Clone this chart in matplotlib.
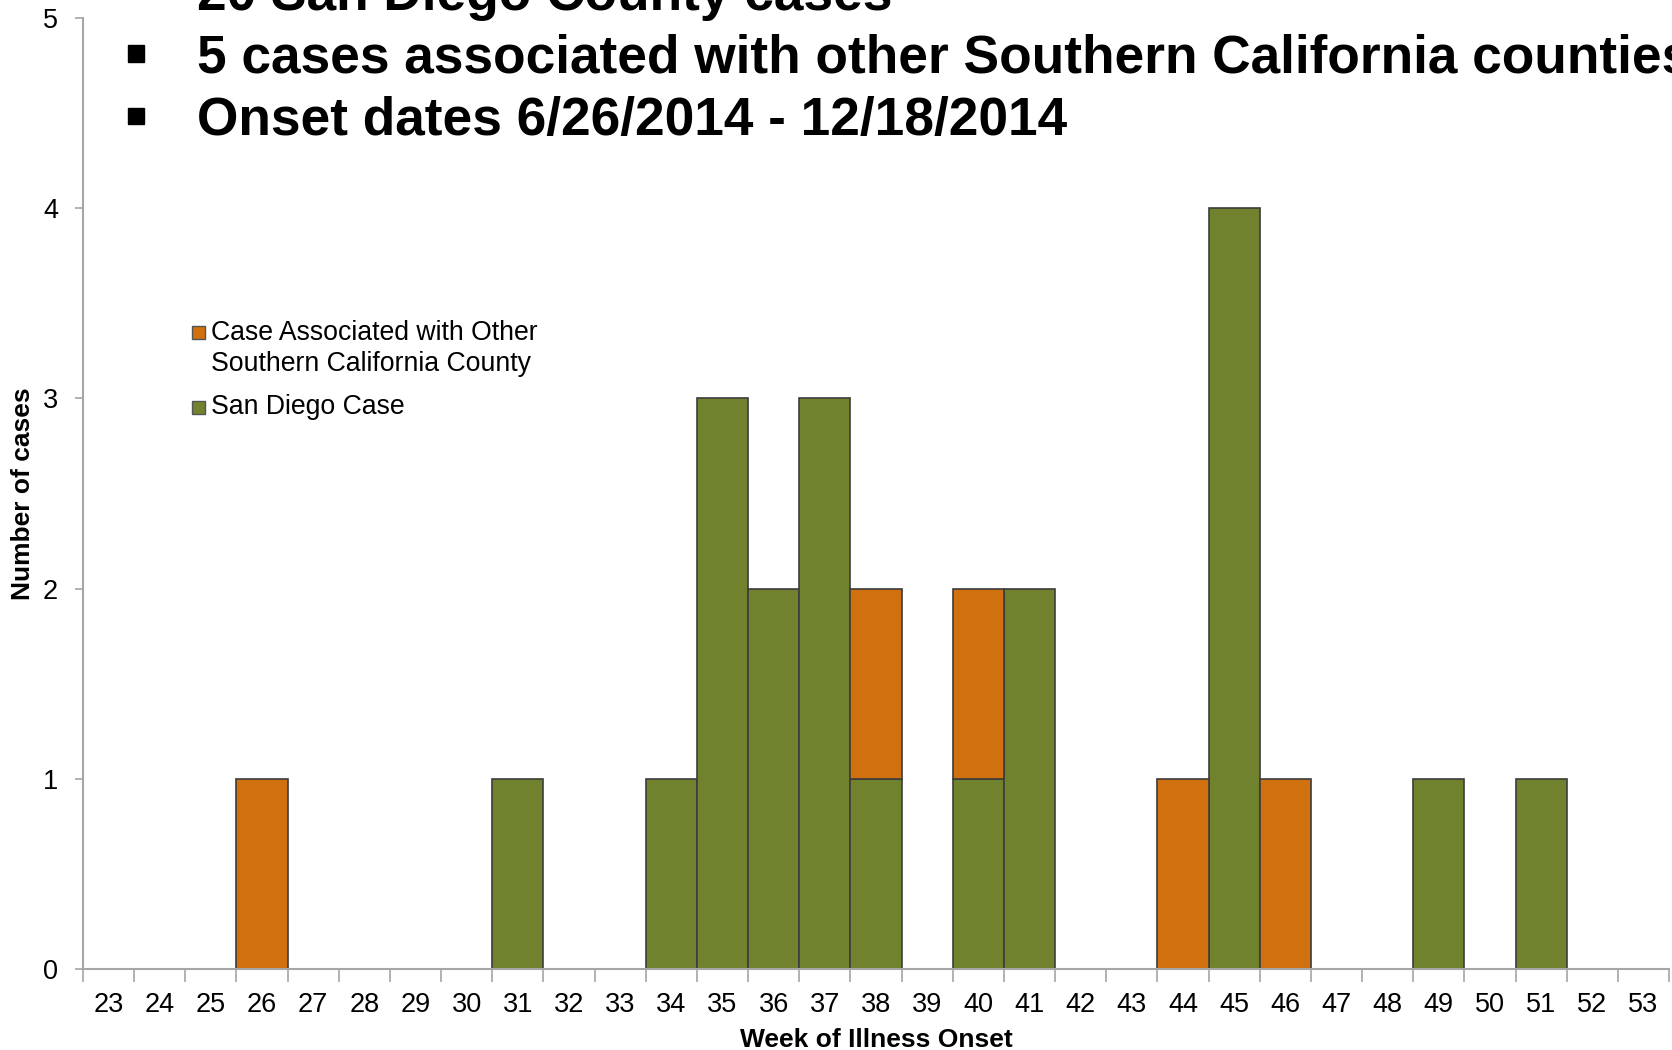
import numpy as np
import matplotlib.pyplot as plt
from matplotlib.patches import Rectangle

plt.rcParams['font.family'] = ['Liberation Sans', 'DejaVu Sans']

weeks = np.arange(23, 54)
san_diego = np.array([0, 0, 0, 0, 0, 0, 0, 0, 1, 0, 0, 1, 3, 2, 3, 1,
                      0, 1, 2, 0, 0, 0, 4, 0, 0, 0, 1, 0, 1, 0, 0])
other_county = np.array([0, 0, 0, 1, 0, 0, 0, 0, 0, 0, 0, 0, 0, 0, 0, 1,
                         0, 1, 0, 0, 0, 1, 0, 1, 0, 0, 0, 0, 0, 0, 0])

headline = ["20 San Diego County cases",
            "5 cases associated with other Southern California counties",
            "Onset dates 6/26/2014 - 12/18/2014"]
label_other = "Case Associated with Other\nSouthern California County"
label_sd = "San Diego Case"

green = "#71822f"
orange = "#d0700e"
edge = "#3c3c3c"
axis_grey = "#a6a6a6"

W, H = 1672, 1050
fig = plt.figure(figsize=(W / 100, H / 100), dpi=100)
ax = fig.add_axes([83 / W, 1 - 969 / H, (1669 - 83) / W, (969 - 18) / H])

# stacked bars, only where there are cases
m = san_diego > 0
ax.bar(weeks[m], san_diego[m], width=1.0, color=green, edgecolor=edge, linewidth=1.2)
m = other_county > 0
ax.bar(weeks[m], other_county[m], bottom=san_diego[m], width=1.0,
       color=orange, edgecolor=edge, linewidth=1.2)

ax.set_xlim(22.5, 53.5)
ax.set_ylim(0, 5)
ax.set_yticks(range(0, 6))
ax.set_xticks(weeks)
ax.set_xticklabels([str(w) for w in weeks])
ax.set_xticks(np.arange(22.5, 54.0, 1.0), minor=True)
ax.tick_params(axis='x', which='major', length=0, pad=16.5, labelsize=19.5)
ax.tick_params(axis='x', which='minor', length=9, width=1.2, color=axis_grey, direction='out')
ax.tick_params(axis='y', length=6, width=1.2, color=axis_grey, pad=12, labelsize=19.5)

for s in ['top', 'right']:
    ax.spines[s].set_visible(False)
for s in ['left', 'bottom']:
    ax.spines[s].set_color(axis_grey)
    ax.spines[s].set_linewidth(1.5)

fig.text(876 / W, 1 - 1040 / H, "Week of Illness Onset", ha='center', va='center',
         fontsize=19, fontweight='bold')
fig.text(23 / W, 1 - 494 / H, "Number of cases", ha='center', va='center',
         rotation=90, fontsize=19, fontweight='bold')

# bullet lines at the top
for i, line in enumerate(headline):
    base = 10 + 62.5 * i
    fig.text(197 / W, 1 - base / H, line, ha='left', va='baseline',
             fontsize=38.3, fontweight='bold')
    cy = base - 19
    if cy > 10:
        fig.add_artist(Rectangle((128 / W, 1 - (cy + 8) / H), 16 / W, 16 / H,
                                 transform=fig.transFigure, color='black'))

# legend
fig.add_artist(Rectangle((192 / W, 1 - 339 / H), 13 / W, 13 / H, transform=fig.transFigure,
                         facecolor=orange, edgecolor='#555555', linewidth=1))
fig.text(211 / W, 1 - 333 / H, label_other.split("\n")[0], ha='left', va='center', fontsize=19.2)
fig.text(211 / W, 1 - 364 / H, label_other.split("\n")[1], ha='left', va='center', fontsize=19.2)
fig.add_artist(Rectangle((192 / W, 1 - 414 / H), 13 / W, 13 / H, transform=fig.transFigure,
                         facecolor=green, edgecolor='#555555', linewidth=1))
fig.text(211 / W, 1 - 407 / H, label_sd, ha='left', va='center', fontsize=19.2)

fig.savefig("out.png", dpi=100)
